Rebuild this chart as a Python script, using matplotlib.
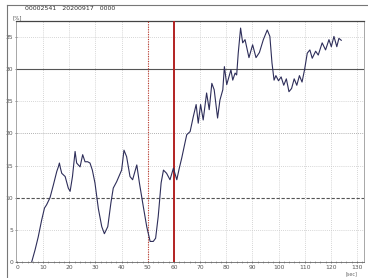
import numpy as np
import matplotlib.pyplot as plt
from matplotlib.lines import Line2D

# values
t = [5.6, 6.9, 8.1, 9.4, 10.5, 11.3, 12.6, 13.9, 15.2, 15.8, 16.2, 16.6, 17.1, 18.4,
     19.6, 20.3, 21.2, 22.2, 22.8, 24.1, 25.1, 26.0, 27.0, 27.9, 28.8, 29.8, 31.1,
     32.4, 33.4, 34.7, 35.9, 36.8, 38.1, 40.0, 40.9, 41.9, 43.2, 44.2, 45.8, 46.8,
     48.3, 49.6, 50.9, 52.1, 53.0, 54.0, 55.1, 56.0, 57.2, 58.5, 59.8, 61.1, 62.0,
     63.0, 64.2, 64.9, 66.2, 67.4, 68.5, 69.3, 70.2, 71.2, 72.5, 73.5, 74.5, 75.4,
     76.7, 77.6, 78.7, 79.3, 80.2, 81.1, 81.8, 82.5, 83.4, 84.0, 84.6, 85.5, 86.3,
     87.2, 88.7, 90.1, 91.4, 92.7, 94.2, 95.7, 96.7, 97.5, 98.3, 99.0, 100.0, 101.0,
     102.0, 103.0, 104.0, 105.0, 106.0, 107.0, 108.0, 109.0, 110.0, 111.0, 112.0,
     112.9, 114.2, 115.2, 116.7, 118.0, 119.3, 120.2, 121.2, 122.3, 123.1, 124.0]
pct = [0.0, 1.9, 3.9, 6.5, 8.4, 8.9, 10.0, 12.0, 14.1, 14.8, 15.4, 14.6, 13.8, 13.3,
       11.5, 11.0, 13.3, 17.2, 15.4, 14.8, 16.7, 15.6, 15.6, 15.4, 14.3, 12.3, 8.3,
       5.5, 4.4, 5.5, 9.2, 11.5, 12.5, 14.3, 17.4, 16.4, 13.3, 12.8, 15.1, 12.3,
       8.6, 5.5, 3.2, 3.2, 3.7, 7.1, 12.3, 14.3, 13.8, 12.8, 14.6, 12.8, 14.5,
       16.2, 18.5, 19.8, 20.3, 22.6, 24.5, 21.6, 24.5, 22.1, 26.3, 23.7, 27.8, 26.8,
       22.4, 25.2, 26.8, 30.4, 27.6, 28.9, 29.9, 28.3, 29.4, 29.1, 32.5, 36.4, 34.1,
       34.6, 31.8, 33.8, 31.8, 32.6, 34.6, 36.1, 35.1, 31.0, 28.3, 29.0, 28.2, 28.8,
       27.5, 28.5, 26.5, 27.0, 28.5, 27.5, 29.0, 28.0, 30.0, 32.5, 33.0,
       31.7, 32.8, 32.2, 34.1, 33.0, 34.6, 33.5, 35.1, 33.5, 34.8, 34.5]

xticks = list(range(0, 131, 10))
yticks = list(range(0, 36, 5))
marker_dotted = 50
marker_solid = 60

fig = plt.figure(figsize=(3.68, 2.78), dpi=100)
ax = fig.add_axes([16/368, 16/278, 348/368, 241/278])

ax.set_xlim(-0.4, 132.7)
ax.set_ylim(0, 37.5)

# grid
for xv in xticks[1:]:
    ax.axvline(xv, color='#c8c8c8', lw=0.6, ls=(0, (1, 1.5)), zorder=1)
for yv in yticks[1:]:
    if yv == 10:
        ax.axhline(yv, color='#555555', lw=0.8, ls=(0, (3, 1.5)), zorder=1)
    elif yv == 30:
        ax.axhline(yv, color='#555555', lw=0.8, zorder=1)
    elif yv == 20:
        ax.axhline(yv, color='#999999', lw=0.6, ls=(0, (1, 1.5)), zorder=1)
    else:
        ax.axhline(yv, color='#c8c8c8', lw=0.6, ls=(0, (1, 1.5)), zorder=1)

ax.axvline(marker_dotted, color='#c0392b', lw=0.8, ls=(0, (1, 1.2)), zorder=3)
ax.axvline(marker_solid, color='#b22222', lw=1.4, zorder=3)

ax.plot(t, pct, color='#2e2e5a', lw=0.8, zorder=4)

ax.set_xticks(xticks)
ax.set_yticks(yticks)
ax.set_xticks(np.arange(0, 133, 2), minor=True)
ax.tick_params(axis='both', which='major', labelsize=4.3, colors='#555555',
               length=2, width=0.5, pad=1.5, direction='inout')
ax.tick_params(axis='x', which='minor', length=1.5, width=0.4, color='#777777',
               direction='inout')
ax.tick_params(axis='y', which='major', pad=1)
for s in ax.spines.values():
    s.set_color('#999999')
    s.set_linewidth(0.6)
ax.spines['bottom'].set_color('#666666')
ax.spines['top'].set_color('#444444')
ax.spines['top'].set_linewidth(0.9)

fig.text(13/368, 1 - 18/278, '[%]', fontsize=4, color='#555555', va='center')
fig.text(25/368, 1 - 9/278, '00002541   20200917   0000', fontsize=4.5,
         color='#333333', va='center')
fig.text(352/368, 1 - 274/278, '[sec]', fontsize=3.5, color='#666666',
         ha='center', va='center')

# outer frame lines (top and left)
fig.add_artist(Line2D([7/368, 7/368], [0, 1 - 5/278], color='#777777', lw=0.8))
fig.add_artist(Line2D([7/368, 1], [1 - 5/278, 1 - 5/278], color='#777777', lw=0.8))

fig.savefig('out.png', dpi=100)
